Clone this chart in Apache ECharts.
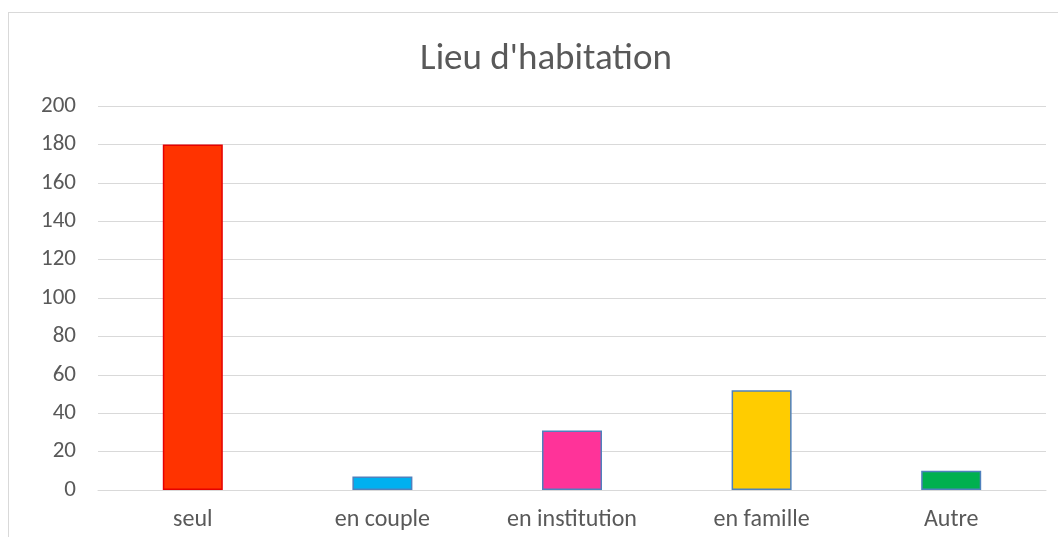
<!DOCTYPE html>
<html><head><meta charset="utf-8">
<script src="https://cdn.jsdelivr.net/npm/echarts@6/dist/echarts.min.js"></script>
<style>html,body{margin:0;padding:0;background:#fff;}
#frame{position:absolute;left:8px;top:12px;width:1100px;height:600px;border:1px solid #d9d9d9;box-sizing:border-box;}
#c{position:absolute;left:0;top:0;width:1058px;height:537px;}</style>
</head><body><div id="frame"></div><div id="c"></div>
<script>
const categories = ["seul", "en couple", "en institution", "en famille", "Autre"];
const values = [180, 7, 31, 52, 10];
const fillColors = ["#FF3300", "#00B0F0", "#FF3399", "#FFCC00", "#00B050"];
const borderColors = ["#E60000", "#4F81BD", "#4F81BD", "#4F81BD", "#4F81BD"];
const title = "Lieu d'habitation";
const font = "Carlito, 'Liberation Sans', 'Open Sans', sans-serif";
const chart = echarts.init(document.getElementById('c'));
chart.setOption({
  animation: false,
  title: {text: title, left: 541, textAlign: 'center', top: 36, textStyle: {fontFamily: font, fontSize: 37, fontWeight: 'normal', color: '#595959'}},
  grid: {left: 98, right: 12, top: 106, bottom: 47},
  xAxis: {type: 'category', data: categories,
    axisLine: {lineStyle: {color: '#d9d9d9', width: 1}}, axisTick: {show: false},
    axisLabel: {fontFamily: font, fontSize: 24, color: '#595959', margin: 18}},
  yAxis: {type: 'value', min: 0, max: 200, interval: 20,
    axisLine: {show: false}, axisTick: {show: false},
    splitLine: {lineStyle: {color: '#d9d9d9', width: 1}},
    axisLabel: {fontFamily: font, fontSize: 23, color: '#595959', margin: 22}},
  series: [{type: 'bar', barWidth: 60,
    data: values.map((v, i) => ({value: v, itemStyle: {color: fillColors[i], borderColor: borderColors[i], borderWidth: 1.5}}))}]
});
</script></body></html>
